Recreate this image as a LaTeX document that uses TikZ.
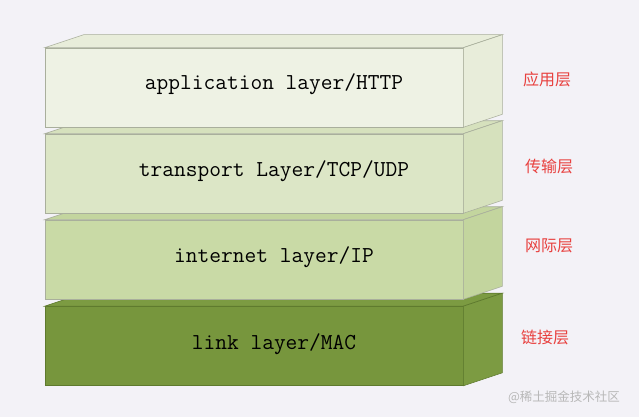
\documentclass[tikz,border=0pt]{standalone}
\usepackage{fontspec}
\newfontfamily\cjk{Noto Sans CJK SC}
\usetikzlibrary{calc}

\definecolor{bgcol}{HTML}{F3F2F7}
\definecolor{edgecol}{HTML}{A9AF9C}
\definecolor{darkedge}{HTML}{5E7A2E}
\definecolor{appfront}{HTML}{EEF2E4}
\definecolor{appside}{HTML}{E8EDDA}
\definecolor{transfront}{HTML}{DCE6C6}
\definecolor{transside}{HTML}{D6E1BD}
\definecolor{netfront}{HTML}{C9DAA6}
\definecolor{netside}{HTML}{C3D59E}
\definecolor{linkfront}{HTML}{77963D}
\definecolor{linkside}{HTML}{7C9B42}
\definecolor{cnred}{HTML}{E8413F}

\tikzset{
  front/.style={rectangle, inner sep=0pt, minimum width=418pt, minimum height=79pt, line width=0.6pt},
  layertext/.style={anchor=base, font=\ttfamily\fontsize{22.8}{24}\selectfont},
  cnlabel/.style={font=\cjk\fontsize{16}{18}\selectfont, text=cnred},
}

\begin{document}
\begin{tikzpicture}[x=1pt,y=-1pt]
\fill[bgcol] (0,0) rectangle (639,417);
\useasboundingbox (0,0) rectangle (639,417);

% link layer (bottom)
\node[front, fill=linkfront, draw=darkedge] (link) at (254,346) {};
\draw[fill=linkside, draw=darkedge, line width=0.6pt] (link.north west) -- ++(39,-13) -- ($(link.north east)+(39,-13)$) -- (link.north east) -- cycle;
\draw[fill=linkside, draw=darkedge, line width=0.6pt] (link.north east) -- ++(39,-13) -- ($(link.south east)+(39,-13)$) -- (link.south east) -- cycle;
\node[layertext] (linktext) at (274,349) {link layer/MAC};

% internet layer
\node[front, fill=netfront, draw=edgecol] (net) at (254,259.5) {};
\draw[fill=netside, draw=edgecol, line width=0.6pt] (net.north west) -- ++(39,-13) -- ($(net.north east)+(39,-13)$) -- (net.north east) -- cycle;
\draw[fill=netside, draw=edgecol, line width=0.6pt] (net.north east) -- ++(39,-13) -- ($(net.south east)+(39,-13)$) -- (net.south east) -- cycle;
\node[layertext] (nettext) at (274,262) {internet layer/IP};

% transport layer
\node[front, fill=transfront, draw=edgecol] (trans) at (254,173.5) {};
\draw[fill=transside, draw=edgecol, line width=0.6pt] (trans.north west) -- ++(39,-13) -- ($(trans.north east)+(39,-13)$) -- (trans.north east) -- cycle;
\draw[fill=transside, draw=edgecol, line width=0.6pt] (trans.north east) -- ++(39,-13) -- ($(trans.south east)+(39,-13)$) -- (trans.south east) -- cycle;
\node[layertext] (transtext) at (274,176) {transport Layer/TCP/UDP};

% application layer (top)
\node[front, fill=appfront, draw=edgecol] (app) at (254,87.5) {};
\draw[fill=appside, draw=edgecol, line width=0.6pt] (app.north west) -- ++(39,-13) -- ($(app.north east)+(39,-13)$) -- (app.north east) -- cycle;
\draw[fill=appside, draw=edgecol, line width=0.6pt] (app.north east) -- ++(39,-13) -- ($(app.south east)+(39,-13)$) -- (app.south east) -- cycle;
\node[layertext] (apptext) at (274,90) {application layer/HTTP};

% chinese labels
\node[cnlabel] (appcn) at (547,79) {应用层};
\node[cnlabel] (transcn) at (549,166) {传输层};
\node[cnlabel] (netcn) at (549,246) {网际层};
\node[cnlabel] (linkcn) at (545,337) {链接层};

\node[font=\cjk\fontsize{12.5}{14}\selectfont, text=black!28] (mark) at (564,397) {@稀土掘金技术社区};
\end{tikzpicture}
\end{document}
